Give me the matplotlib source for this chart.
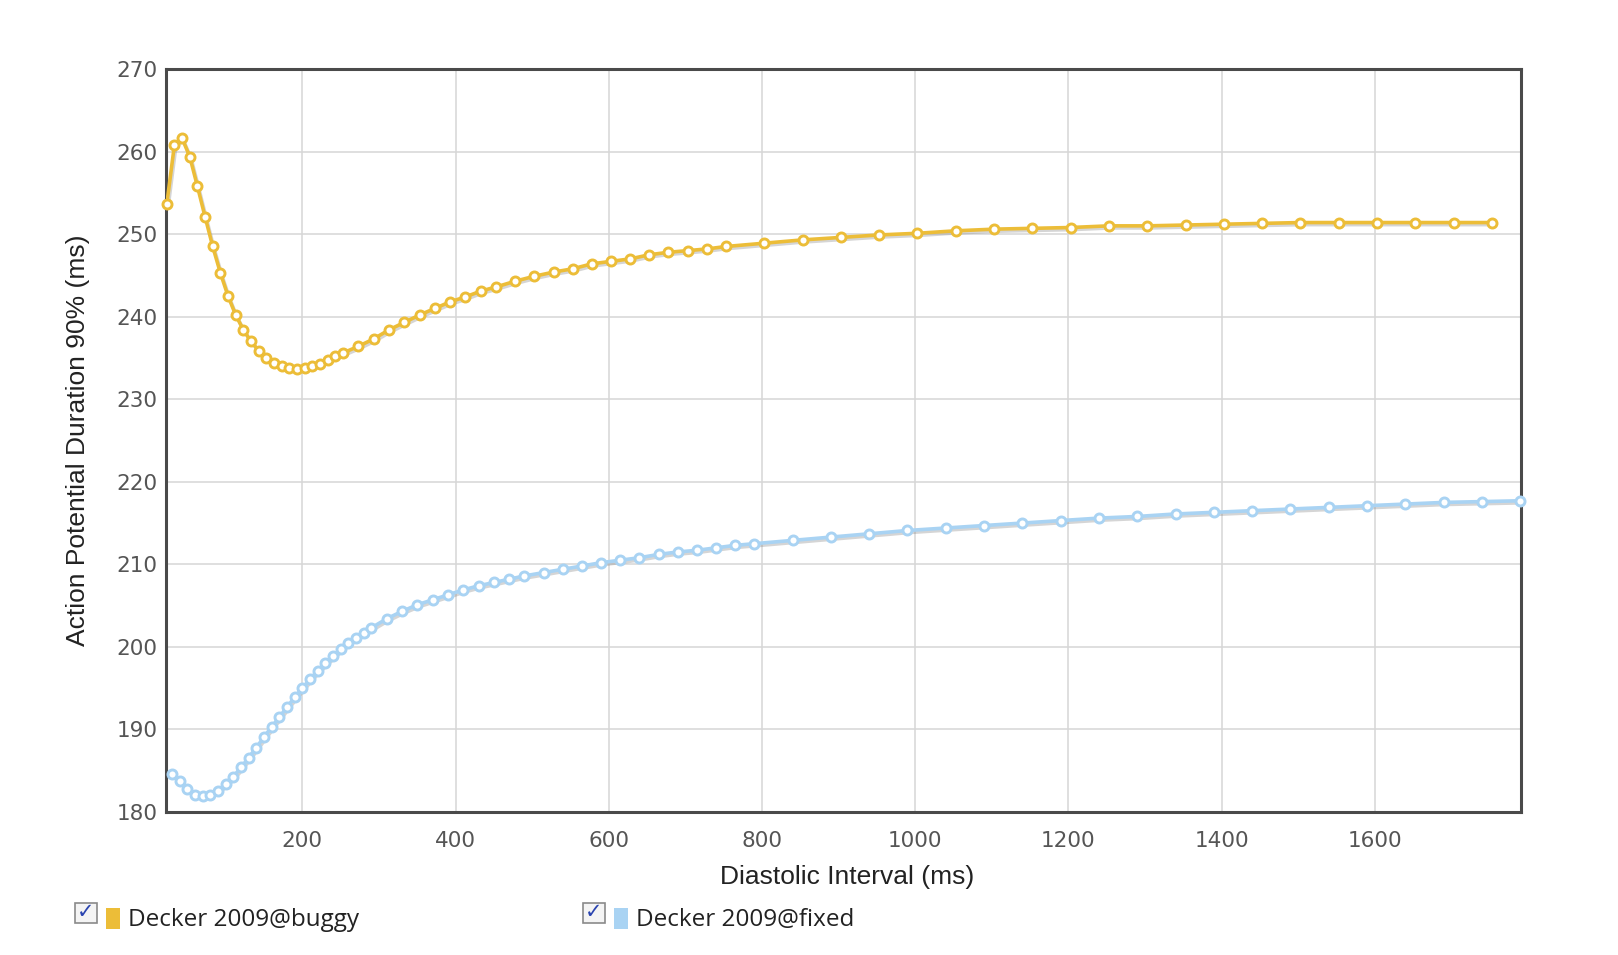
import matplotlib
matplotlib.use("Agg")
import matplotlib.pyplot as plt
import matplotlib.patheffects as pe
from matplotlib.patches import Rectangle

# diastolic interval (ms) and APD90 (ms)
buggy_di = [23, 33, 43, 53, 63, 73, 83, 93, 103, 113, 123, 133, 143, 153, 163, 173,
            183, 193, 203, 213, 223, 233, 243, 253,
            273, 293, 313, 333, 353, 373, 393, 413, 433, 453,
            478, 503, 528, 553, 578, 603, 628, 653, 678, 703, 728, 753,
            803, 853, 903, 953, 1003, 1053, 1103, 1153, 1203, 1253, 1303, 1353,
            1403, 1453, 1503, 1553, 1603, 1653, 1703, 1753]
buggy_apd = [253.6, 260.8, 261.6, 259.4, 255.8, 252.1, 248.5, 245.3, 242.5, 240.2,
             238.4, 237.0, 235.9, 235.0, 234.4, 234.0, 233.8, 233.7, 233.8, 234.0,
             234.3, 234.7, 235.2, 235.6,
             236.4, 237.3, 238.4, 239.3, 240.2, 241.0, 241.8, 242.4, 243.1, 243.6,
             244.3, 244.9, 245.4, 245.8, 246.4, 246.7, 247.0, 247.5, 247.8, 248.0,
             248.2, 248.5,
             248.9, 249.3, 249.6, 249.9, 250.1, 250.4, 250.6, 250.7, 250.8, 251.0,
             251.0, 251.1, 251.2, 251.3, 251.4, 251.4, 251.4, 251.4, 251.4, 251.4]

fixed_di = [30, 40, 50, 60, 70, 80, 90, 100, 110, 120, 130, 140, 150, 160, 170, 180,
            190, 200, 210, 220, 230, 240, 250, 260, 270, 280, 290,
            310, 330, 350, 370, 390, 410, 430, 450, 470, 490,
            515, 540, 565, 590, 615, 640, 665, 690, 715, 740, 765, 790,
            840, 890, 940, 990, 1040, 1090, 1140, 1190, 1240, 1290, 1340, 1390,
            1440, 1490, 1540, 1590, 1640, 1690, 1740, 1790]
fixed_apd = [184.6, 183.8, 182.8, 182.1, 181.9, 182.1, 182.6, 183.4, 184.3, 185.4,
             186.6, 187.8, 189.1, 190.3, 191.5, 192.7, 193.9, 195.0, 196.1, 197.1,
             198.0, 198.9, 199.7, 200.5, 201.1, 201.7, 202.3,
             203.4, 204.3, 205.1, 205.7, 206.3, 206.9, 207.4, 207.8, 208.2, 208.6,
             209.0, 209.4, 209.8, 210.2, 210.5, 210.8, 211.2, 211.5, 211.7, 212.0,
             212.3, 212.5,
             212.9, 213.3, 213.7, 214.1, 214.4, 214.7, 215.0, 215.3, 215.6, 215.8,
             216.1, 216.3, 216.5, 216.7, 216.9, 217.1, 217.3, 217.5, 217.6, 217.7]

series_names = ["Decker 2009@buggy", "Decker 2009@fixed"]
series_colors = ["#ecbd38", "#a9d3f3"]

x_ticks = [200, 400, 600, 800, 1000, 1200, 1400, 1600]
y_ticks = [180, 190, 200, 210, 220, 230, 240, 250, 260, 270]

W, H = 1618, 955
fig = plt.figure(figsize=(W / 100, H / 100), dpi=100)
ax = fig.add_axes([166 / W, 1 - 812 / H, (1521 - 166) / W, (812 - 69) / H])

shadow = [pe.SimpleLineShadow(offset=(1, -1.5), shadow_color="#888888", alpha=0.35),
          pe.Normal()]
for xs, ys, col in [(buggy_di, buggy_apd, series_colors[0]),
                    (fixed_di, fixed_apd, series_colors[1])]:
    ax.plot(xs, ys, color=col, lw=2.6, zorder=3, path_effects=shadow)
    ax.plot(xs, ys, ls="none", marker="o", ms=6.5, mfc="white", mec=col, mew=2.1,
            zorder=4, clip_on=False)

ax.set_xlim(min(buggy_di[0], fixed_di[0]) - 1, fixed_di[-1] + 1)
ax.set_ylim(180, 270)
ax.set_xticks(x_ticks)
ax.set_yticks(y_ticks)
ax.grid(True, color="#d6d6d6", lw=1.1)
ax.set_axisbelow(True)
for s in ax.spines.values():
    s.set_color("#4a4a4a")
    s.set_linewidth(2.2)
ax.tick_params(length=0, labelsize=15.5, labelcolor="#555555")
ax.tick_params(axis="x", pad=14)
ax.tick_params(axis="y", pad=6)

ax.set_xlabel("Diastolic Interval (ms)", family="Liberation Sans", fontsize=19,
              color="#222222", va="top")
ax.xaxis.set_label_coords(0.5026, -0.071)
ax.set_ylabel("Action Potential Duration 90% (ms)", family="Liberation Sans",
              fontsize=19, color="#222222")
ax.yaxis.set_label_coords(-0.056, 0.5)

# legend row with checkboxes under the chart
legend_x = [75, 583]
for lx, name, col in zip(legend_x, series_names, series_colors):
    fig.patches.append(Rectangle((lx / W, 1 - 923 / H), 22 / W, 20 / H,
                                 transform=fig.transFigure, fc="#f4f4f4",
                                 ec="#8a8a8a", lw=1.2))
    fig.text((lx + 11) / W, 1 - 912 / H, "\u2713", color="#2a44b0", fontsize=15,
             ha="center", va="center", family="DejaVu Sans", weight="bold")
    fig.patches.append(Rectangle(((lx + 31) / W, 1 - 929 / H), 14 / W, 21 / H,
                                 transform=fig.transFigure, fc=col, ec="none"))
    fig.text((lx + 53) / W, 1 - 926 / H, name, family="Open Sans", fontsize=17.5,
             color="#222222", ha="left", va="baseline")

fig.savefig("out.png", dpi=100)
